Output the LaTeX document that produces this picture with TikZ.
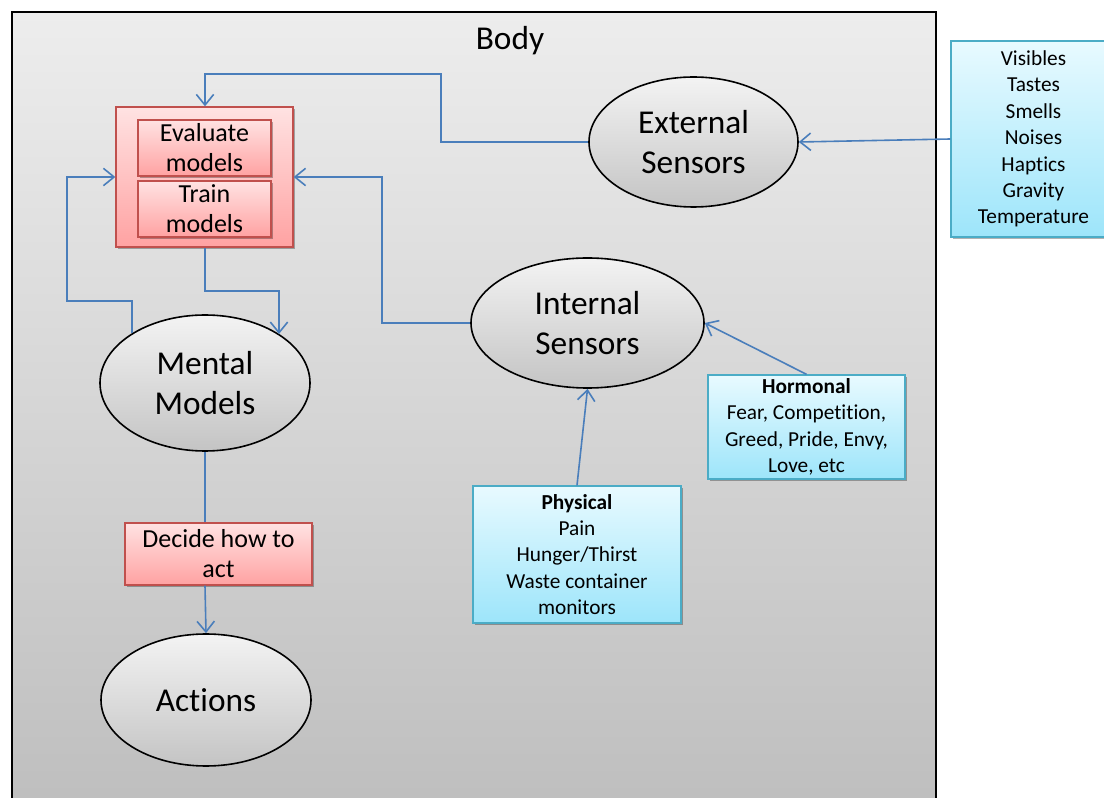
\documentclass[tikz,border=0pt]{standalone}
\usepackage{fontspec}
\setmainfont{Carlito}[Ligatures={NoCommon,NoContextual}]
\usetikzlibrary{shapes.geometric,shadows,arrows.meta}
\newlength\pxu
\setlength\pxu{0.75pt}
\definecolor{linkblue}{HTML}{4A7EBB}
\definecolor{redline}{HTML}{C0504D}
\definecolor{pinktop}{HTML}{FFE2E2}
\definecolor{pinkbot}{HTML}{FFA2A2}
\definecolor{bluetop}{HTML}{E8FAFF}
\definecolor{bluebot}{HTML}{9DE5FA}
\definecolor{blueline}{HTML}{4BACC6}
\definecolor{ovaltop}{HTML}{F3F3F3}
\definecolor{ovalbot}{HTML}{C4C4C4}
\definecolor{bodytop}{HTML}{EDEDED}
\definecolor{bodybot}{HTML}{BDBDBD}
\begin{document}
\begin{tikzpicture}[x=0.75pt,y=-0.75pt,
  link/.style={draw=linkblue,line width=1.2pt},
  linkarrow/.style={link,-{Straight Barb[length=8pt,width=13pt]}},
  oval/.style={ellipse,draw=black,line width=1.2pt,top color=ovaltop,bottom color=ovalbot,
    align=center,inner sep=0pt,font=\fontsize{25}{30}\selectfont},
  redbox/.style={rectangle,draw=redline,line width=1pt,top color=pinktop,bottom color=pinkbot,
    align=center,inner sep=0pt,font=\fontsize{19.5}{22.5}\selectfont,
    drop shadow={shadow xshift=1.5pt,shadow yshift=-1.5pt,opacity=0.3,fill=black}},
  bluebox/.style={rectangle,draw=blueline,line width=1pt,top color=bluetop,bottom color=bluebot,
    align=center,inner sep=0pt,font=\fontsize{16}{19.8}\selectfont,
    drop shadow={shadow xshift=1.5pt,shadow yshift=-1.5pt,opacity=0.3,fill=black}}]
\useasboundingbox (0,0) rectangle (1104,798);
\clip (0,0) rectangle (1104,798);
\fill[white] (0,0) rectangle (1104,798);

% body frame (runs past the lower edge)
\draw[line width=1.1pt,top color=bodytop,bottom color=bodybot] (12,12) rectangle (936,830);
\node (title) at (510,41) {\fontsize{25}{30}\selectfont Body};

% model box with its two steps
\node[redbox,minimum width=177\pxu,minimum height=140\pxu] (models) at (204.5,177) {};
\node[redbox,minimum width=133\pxu,minimum height=56\pxu] (evaluate) at (204.5,148) {Evaluate\\models};
\node[redbox,minimum width=133\pxu,minimum height=56\pxu] (train) at (204.5,209) {Train\\models};

% ovals
\node[oval,minimum width=209\pxu,minimum height=130\pxu] (ext) at (693.5,142) {External\\Sensors};
\node[oval,minimum width=233\pxu,minimum height=130\pxu] (int) at (587.5,323) {Internal\\Sensors};
\node[oval,minimum width=210\pxu,minimum height=136\pxu] (mental) at (205,383) {Mental\\Models};
\node[oval,minimum width=210\pxu,minimum height=132\pxu] (actions) at (206,700) {Actions};

% decision step
\node[redbox,minimum width=187\pxu,minimum height=62\pxu] (decide) at (218.5,554) {Decide how to\\act};

% sensor inputs
\node[bluebox,minimum width=165\pxu,minimum height=196\pxu] (vis) at (1033.5,139)
  {Visibles\\Tastes\\Smells\\Noises\\Haptics\\Gravity\\Temperature};
\node[bluebox,minimum width=208\pxu,minimum height=137\pxu] (phys) at (577,554.5)
  {\textbf{Physical}\\Pain\\Hunger/Thirst\\Waste container\\monitors};
\node[bluebox,minimum width=197\pxu,minimum height=104\pxu] (horm) at (806.5,427)
  {\textbf{Hormonal}\\Fear, Competition,\\Greed, Pride, Envy,\\Love, etc};

% connectors
\draw[linkarrow] (vis.west) -- (ext.east);
\draw[linkarrow] (ext.west) -- (441,142) |- (205,74) -- (205,74 |- models.north);
\draw[linkarrow] (int.west) -- (382,323) |- (models.east);
\draw[linkarrow] (mental.146 -| 132,0) |- (67,301) |- (models.west);
\draw[linkarrow] (205,0 |- models.south) |- (279,291) -- (279,334);
\draw[linkarrow] (phys.north) -- (int.south);
\draw[linkarrow] (horm.north) -- (int.east);
\draw[link] (mental.south) -- (mental.south |- decide.north);
\draw[linkarrow] (mental.south |- decide.south) -- (actions.north);
\end{tikzpicture}
\end{document}
